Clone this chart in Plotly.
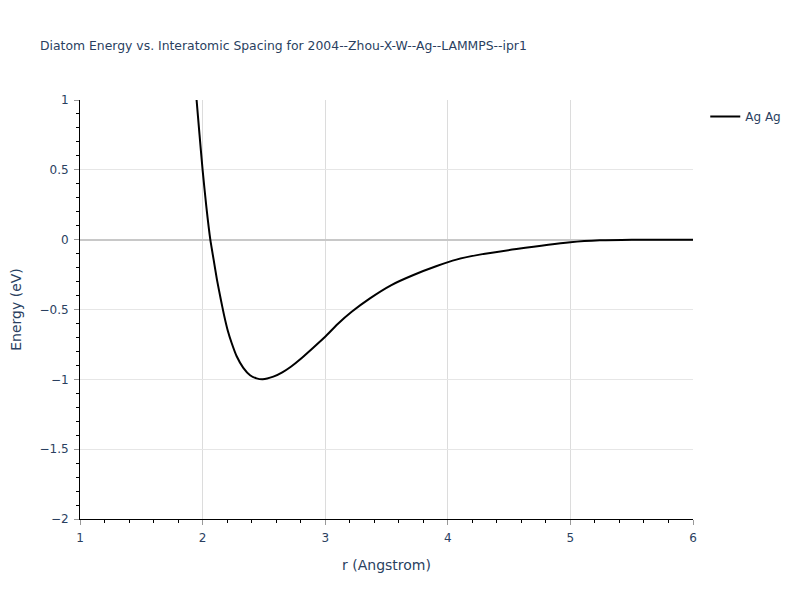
import plotly.graph_objects as go

r_vals = [1.90, 1.951, 1.975, 2.0, 2.03, 2.063, 2.09, 2.117, 2.149, 2.175, 2.205, 2.237, 2.278, 2.332,
          2.387, 2.44, 2.49, 2.577, 2.65, 2.72, 2.794, 2.9, 3.0, 3.1, 3.216, 3.365, 3.54, 3.72, 3.91,
          4.07, 4.26, 4.56, 5.0, 5.24, 5.5, 6.0]
energy = [1.55, 1.0, 0.75, 0.5, 0.24, 0.0, -0.143, -0.286, -0.43, -0.54, -0.65, -0.74, -0.835, -0.918,
          -0.971, -0.993, -1.0, -0.981, -0.95, -0.91, -0.858, -0.775, -0.695, -0.605, -0.516, -0.42, -0.325,
          -0.253, -0.189, -0.143, -0.107, -0.067, -0.019, -0.005, 0.0, 0.0]

title_text = "Diatom Energy vs. Interatomic Spacing for 2004--Zhou-X-W--Ag--LAMMPS--ipr1"

fig = go.Figure()
fig.add_trace(go.Scatter(x=r_vals, y=energy, mode="lines", name="Ag Ag",
                         line=dict(color="black", width=2, shape="spline", smoothing=0.5)))

fig.update_layout(
    template="plotly_white",
    width=800, height=600,
    title=dict(text=title_text, x=0.04, xanchor="left", y=0.938, yanchor="middle",
               font=dict(size=12.4, color="#2a3f5f")),
    font=dict(family="Verdana, DejaVu Sans, sans-serif", size=12, color="#2a3f5f"),
    showlegend=True,
    legend=dict(y=0.995, yanchor="top"),
    margin=dict(l=72, r=115, t=92, b=89, autoexpand=False),
    plot_bgcolor="white",
)
fig.update_xaxes(title=dict(text="r (Angstrom)", standoff=15), range=[1, 6], dtick=1, automargin=True,
                 showline=True, linecolor="black", ticks="outside", tickcolor="#999",
                 ticklen=5, gridcolor="#dcdcdc", zeroline=False, ticklabelstandoff=3,
                 minor=dict(ticks="outside", dtick=0.2, ticklen=3, tickcolor="black", showgrid=False))
fig.update_yaxes(title=dict(text="Energy (eV)", standoff=21), range=[-2, 1], dtick=0.5, automargin=True,
                 showline=True, linecolor="black", ticks="outside", tickcolor="#999",
                 ticklen=5, gridcolor="#e6e6e6", zeroline=True, zerolinecolor="#c8c8c8", zerolinewidth=2,
                 ticklabelstandoff=3,
                 minor=dict(ticks="outside", dtick=0.1, ticklen=3, tickcolor="black", showgrid=False))

fig.write_html("out.html")
